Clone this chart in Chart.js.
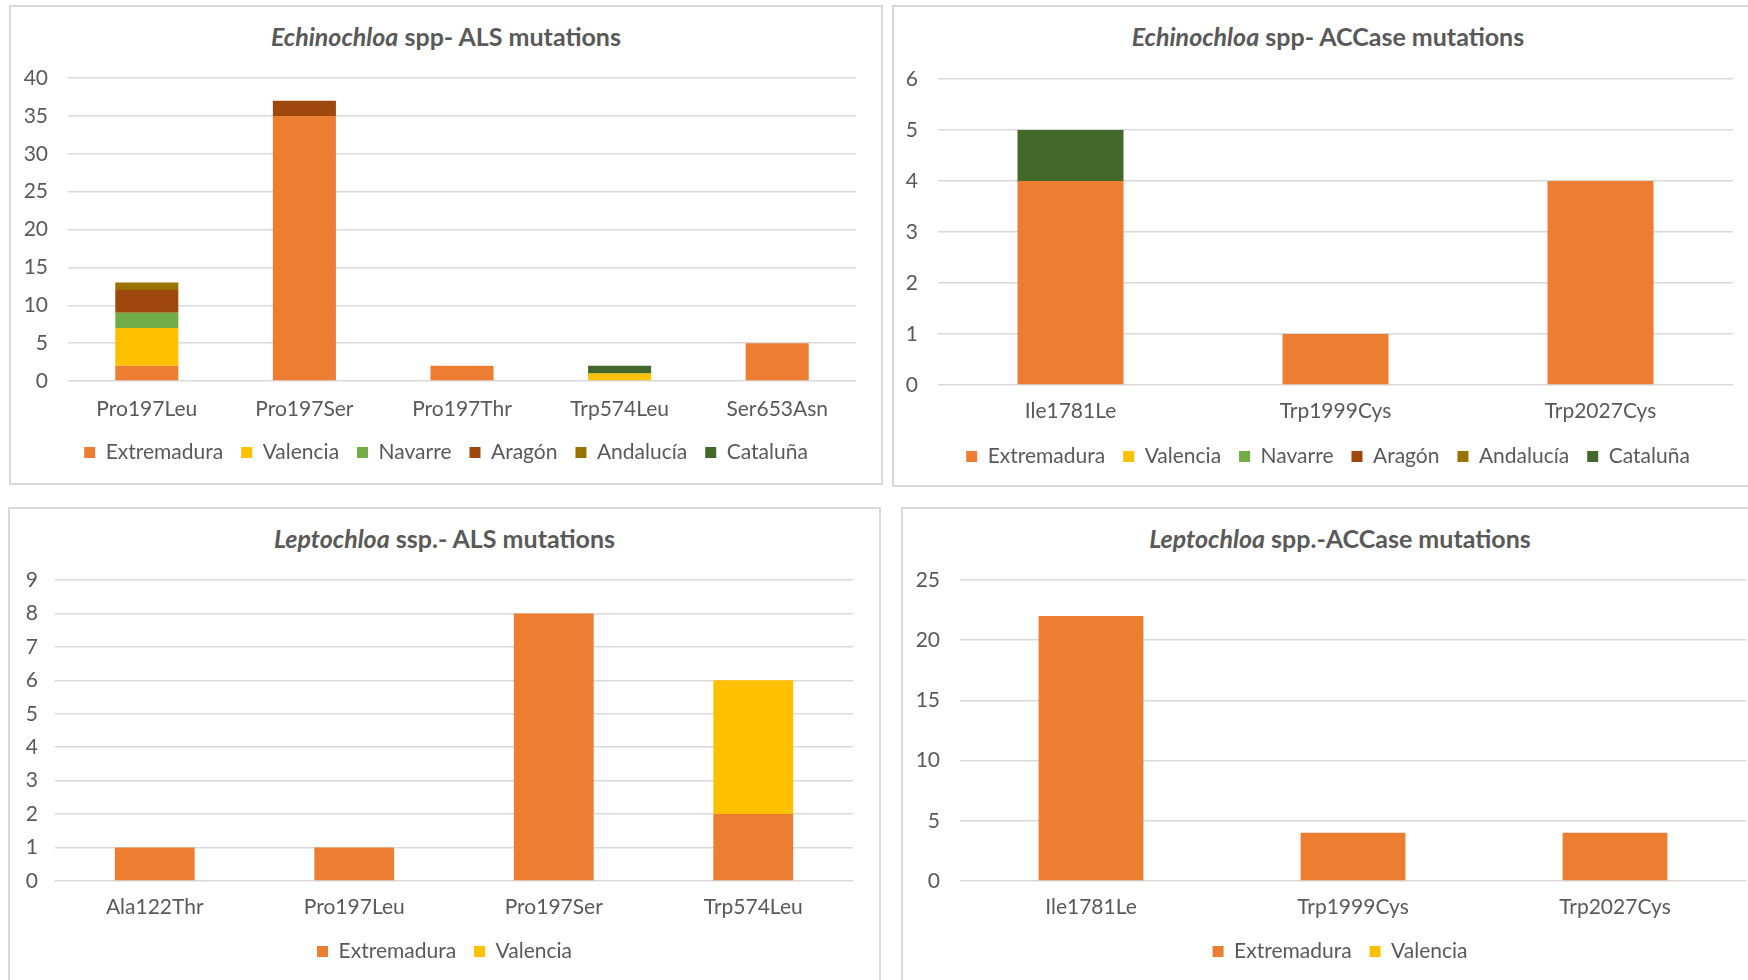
<!DOCTYPE html>
<html>
<head>
<meta charset="utf-8">
<script src="https://cdn.jsdelivr.net/npm/chart.js@4.4.0/dist/chart.umd.min.js"></script>
<style>
  html, body { margin: 0; padding: 0; background: #ffffff; }
  body { position: relative; width: 1748px; height: 980px; overflow: hidden; font-family: Lato, "Noto Sans", sans-serif; }
  .panel { position: absolute; box-sizing: border-box; border: 2px solid #D9D9D9; background: #ffffff; }
  .title { position: absolute; text-align: center; white-space: nowrap; color: #595959;
           font: bold 25px Lato, "Noto Sans", sans-serif; line-height: 28px; }
  canvas { position: absolute; }
</style>
</head>
<body>

<div class="panel" style="left:9px; top:5px; width:874px; height:480px;"></div>
<div class="panel" style="left:892px; top:5px; width:872px; height:482px;"></div>
<div class="panel" style="left:8px; top:507px; width:873px; height:490px;"></div>
<div class="panel" style="left:901px; top:507px; width:878px; height:490px;"></div>

<div class="title" style="left:9px; top:22px; width:874px;"><i>Echinochloa</i> spp- ALS mutations</div>
<div class="title" style="left:892px; top:22px; width:872px;"><i>Echinochloa</i> spp- ACCase mutations</div>
<div class="title" style="left:8px; top:524px; width:873px;"><i>Leptochloa</i> ssp.- ALS mutations</div>
<div class="title" style="left:901px; top:524px; width:878px;"><i>Leptochloa</i> spp.-ACCase mutations</div>

<canvas id="echAls"></canvas>
<canvas id="echAcc"></canvas>
<canvas id="lepAls"></canvas>
<canvas id="lepAcc"></canvas>

<script>
// Regions and their series colours
const regions = ['Extremadura', 'Valencia', 'Navarre', 'Aragón', 'Andalucía', 'Cataluña'];
const regionColors = ['#ED7D31', '#FFC000', '#70AD47', '#9E480E', '#997300', '#43682B'];

// Echinochloa spp. – ALS mutations (number of populations per region)
const echAlsCategories  = ['Pro197Leu', 'Pro197Ser', 'Pro197Thr', 'Trp574Leu', 'Ser653Asn'];
const echAlsExtremadura = [2, 35, 2, 0, 5];
const echAlsValencia    = [5, 0, 0, 1, 0];
const echAlsNavarre     = [2, 0, 0, 0, 0];
const echAlsAragon      = [3, 2, 0, 0, 0];
const echAlsAndalucia   = [1, 0, 0, 0, 0];
const echAlsCataluna    = [0, 0, 0, 1, 0];

// Echinochloa spp. – ACCase mutations
const echAccCategories  = ['Ile1781Le', 'Trp1999Cys', 'Trp2027Cys'];
const echAccExtremadura = [4, 1, 4];
const echAccValencia    = [0, 0, 0];
const echAccNavarre     = [0, 0, 0];
const echAccAragon      = [0, 0, 0];
const echAccAndalucia   = [0, 0, 0];
const echAccCataluna    = [1, 0, 0];

// Leptochloa spp. – ALS mutations
const lepAlsCategories  = ['Ala122Thr', 'Pro197Leu', 'Pro197Ser', 'Trp574Leu'];
const lepAlsExtremadura = [1, 1, 8, 2];
const lepAlsValencia    = [0, 0, 0, 4];

// Leptochloa spp. – ACCase mutations
const lepAccCategories  = ['Ile1781Le', 'Trp1999Cys', 'Trp2027Cys'];
const lepAccExtremadura = [22, 4, 4];
const lepAccValencia    = [0, 0, 0];

// Value-axis ranges: [max, step]
const echAlsAxis = [40, 5];
const echAccAxis = [6, 1];
const lepAlsAxis = [9, 1];
const lepAccAxis = [25, 5];

const TEXT = '#595959';
const GRID = '#D9D9D9';
const FONT = { family: 'Lato, "Noto Sans", sans-serif', size: 21 };

function makeChart(id, box, categories, seriesValues, axis) {
  const cv = document.getElementById(id);
  cv.width = box.w; cv.height = box.h;
  cv.style.left = box.x + 'px'; cv.style.top = box.y + 'px';
  cv.style.width = box.w + 'px'; cv.style.height = box.h + 'px';

  const datasets = seriesValues.map((values, i) => ({
    label: regions[i],
    data: values,
    backgroundColor: regionColors[i],
    borderWidth: 0,
    barPercentage: 0.4,
    categoryPercentage: 1.0,
    yAxisID: 'y'
  }));

  return new Chart(cv, {
    type: 'bar',
    data: { labels: categories, datasets },
    options: {
      responsive: false,
      animation: false,
      devicePixelRatio: 1,
      layout: { padding: { top: 40, left: 0, right: 0, bottom: 0 } },
      plugins: {
        legend: {
          position: 'bottom',
          labels: { boxWidth: 11, boxHeight: 11, padding: 18, color: TEXT, font: FONT }
        },
        tooltip: { enabled: false }
      },
      scales: {
        x: {
          stacked: true,
          grid: { display: false, drawTicks: false },
          border: { display: false },
          ticks: { color: TEXT, font: FONT, padding: box.xPad, maxRotation: 0 },
          afterFit(s) { s.height = box.xH; }
        },
        y: {
          stacked: true,
          min: 0,
          max: axis[0],
          ticks: { stepSize: axis[1], color: TEXT, font: FONT, padding: box.yPad },
          grid: { color: GRID, lineWidth: 1.5, drawTicks: false },
          border: { display: false },
          afterFit(s) { s.width = box.yW; }
        },
        // empty right-hand margin so the plot ends short of the panel edge
        yRight: {
          type: 'linear',
          position: 'right',
          ticks: { display: false },
          grid: { display: false, drawTicks: false },
          border: { display: false },
          afterFit(s) { s.width = box.rW; }
        }
      }
    }
  });
}

makeChart('echAls', { x: 11, y: 38, w: 870, h: 435, yW: 57, yPad: 20, rW: 25, xH: 43, xPad: 16 },
  echAlsCategories,
  [echAlsExtremadura, echAlsValencia, echAlsNavarre, echAlsAragon, echAlsAndalucia, echAlsCataluna],
  echAlsAxis);

makeChart('echAcc', { x: 894, y: 39, w: 868, h: 438, yW: 44, yPad: 20, rW: 29, xH: 43, xPad: 14 },
  echAccCategories,
  [echAccExtremadura, echAccValencia, echAccNavarre, echAccAragon, echAccAndalucia, echAccCataluna],
  echAccAxis);

makeChart('lepAls', { x: 10, y: 540, w: 869, h: 432, yW: 45, yPad: 17, rW: 26, xH: 42, xPad: 14 },
  lepAlsCategories,
  [lepAlsExtremadura, lepAlsValencia],
  lepAlsAxis);

makeChart('lepAcc', { x: 903, y: 540, w: 874, h: 432, yW: 57, yPad: 20, rW: 31, xH: 42, xPad: 14 },
  lepAccCategories,
  [lepAccExtremadura, lepAccValencia],
  lepAccAxis);
</script>
</body>
</html>
